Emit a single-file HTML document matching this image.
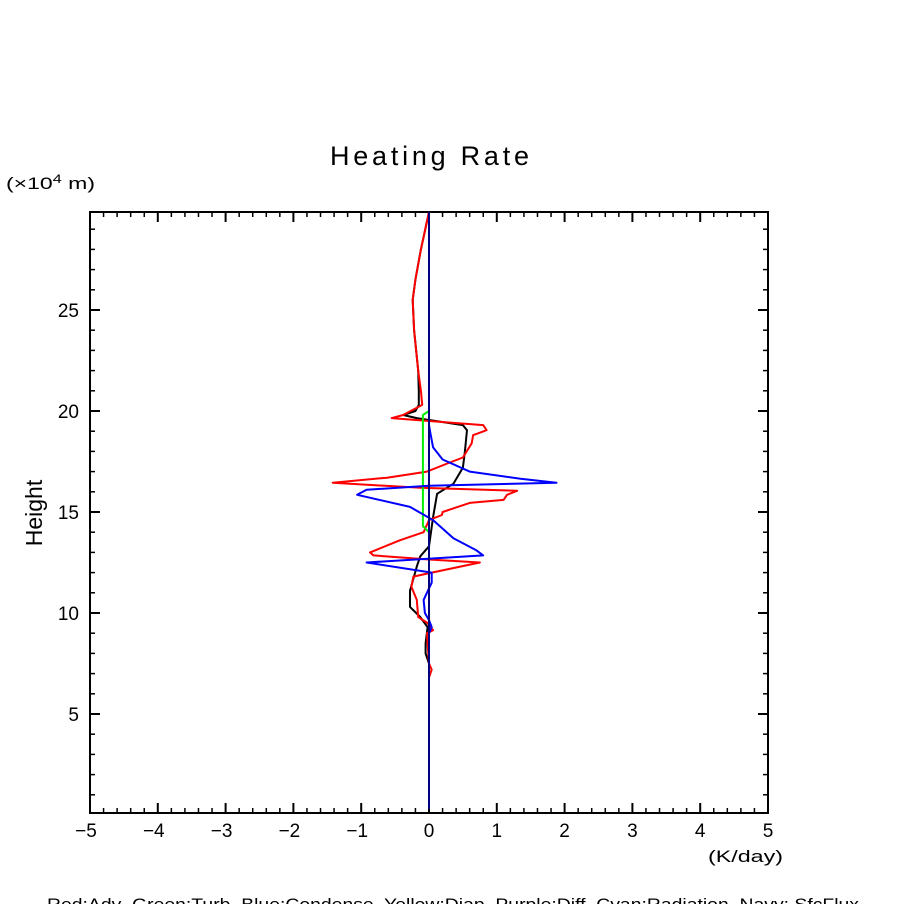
<!DOCTYPE html>
<html><head><meta charset="utf-8"><style>
body{margin:0;background:#fff;}
svg text{font-family:"Liberation Sans",sans-serif;fill:#000;white-space:pre;}
</style></head><body>
<svg id="chart" width="904" height="904" viewBox="0 0 904 904" xmlns="http://www.w3.org/2000/svg">
<rect width="904" height="904" fill="#fff"/>
<text x="330" y="165" font-size="27" textLength="199" lengthAdjust="spacing">Heating Rate</text>
<text x="6" y="189" font-size="17" textLength="89" lengthAdjust="spacingAndGlyphs">(×10<tspan font-size="12" dy="-6">4</tspan><tspan dy="6"> m)</tspan></text>
<text x="42" y="513" font-size="23" text-anchor="middle" transform="rotate(-90 42 513)">Height</text>
<text x="708" y="862" font-size="17" textLength="75" lengthAdjust="spacingAndGlyphs">(K/day)</text>
<text x="47" y="910" font-size="17" textLength="812" lengthAdjust="spacingAndGlyphs">Red:Adv  Green:Turb  Blue:Condense  Yellow:Diap  Purple:Diff  Cyan:Radiation  Navy: SfcFlux</text>
<g id="axes"></g>
<g id="series"></g>
</svg>
<script>
const xTicks=[-5,-4,-3,-2,-1,0,1,2,3,4,5];
const yTicks=[5,10,15,20,25];
const seriesNames=['Turb-black','Adv','Turb','Condense','SfcFlux'];
// heights (x10^4 m) and values (K/day)
const blackH=[29.85,28,26.5,25.5,24,22,21,20.3,20,19.8,19.65,19.3,19.05,18,17.2,16.4,15.9,14.75,13.3,12.8,12.3,11.1,10.3,9.8,9.3,8.5,8,7.5,6,3,0.3];
const blackV=[0,-0.12,-0.2,-0.24,-0.22,-0.16,-0.15,-0.15,-0.2,-0.38,-0.18,0.5,0.56,0.53,0.5,0.36,0.12,0.06,0,-0.13,-0.18,-0.28,-0.28,-0.13,-0.02,-0.05,-0.05,0,0,0,0];
const redH=[29.85,28,26.5,25.5,24,22,21,20.3,19.8,19.65,19.3,19.05,18.8,18.4,17.7,17.4,17,16.7,16.45,16.2,16.05,15.85,15.6,15.45,15,14.85,14.6,14,13.6,13,12.85,12.65,12.5,11.95,11.8,11.3,10.65,9.8,9.5,9.15,9,8.5,7.5,7.2,6.8,5,3,0.3];
const redV=[0,-0.12,-0.2,-0.24,-0.22,-0.16,-0.12,-0.1,-0.38,-0.55,0.8,0.85,0.65,0.63,0.5,0.27,-0.03,-0.62,-1.42,-0.13,1.3,1.15,1.1,0.6,0.2,0.19,0,-0.08,-0.43,-0.87,-0.82,0,0.75,-0.03,-0.23,-0.26,-0.18,-0.16,-0.02,0.06,-0.03,-0.02,0,0.04,0,0,0,0];
const greenH=[0.3,14,14.3,19.8,20,29.85];
const greenV=[0,0,-0.09,-0.09,0,0];
const blueH=[0.3,9,9.3,9.65,10,10.65,11.5,12,12.5,12.85,13.1,13.7,14.6,15.25,15.85,16.1,16.3,16.45,16.65,17,17.6,18.2,18.9,19.3,29.85];
const blueV=[0,0,0.04,0,-0.06,-0.08,0.04,0.04,-0.92,0.8,0.7,0.36,0.06,-0.28,-1.06,-0.92,0,1.88,1.35,0.6,0.2,0.06,0.02,0,0];
const navyH=[0.3,29.85];
const navyV=[0,0];

const X0=90,X1=768,Y0=212,Y1=813;
function xs(v){return 429+v*67.8;}
function ys(h){return 613-(h-10)*20.2;}
const NS='http://www.w3.org/2000/svg';
const axes=document.getElementById('axes');
function mk(tag,attrs,parent){const e=document.createElementNS(NS,tag);for(const k in attrs)e.setAttribute(k,attrs[k]);parent.appendChild(e);return e;}
const frame=mk('rect',{x:X0,y:Y0,width:X1-X0,height:Y1-Y0,fill:'none',stroke:'#000','stroke-width':2},axes);


for(let i=0;i<xTicks.length;i++){
  const v=xTicks[i],x=xs(v);
  const t1=mk('line',{x1:x,x2:x,y1:Y1,y2:Y1-10,stroke:'#000','stroke-width':2},axes);
  
  
  mk('line',{x1:x,x2:x,y1:Y0,y2:Y0+10,stroke:'#000','stroke-width':2},axes);
  const lb=mk('text',{x:x-(v<0?4:0),y:Y1+24,'font-size':19,'text-anchor':'middle'},axes);
  lb.textContent=(v<0?'\u2212'+(-v):''+v);
  
  
  if(i<xTicks.length-1){for(let m=1;m<5;m++){const xm=xs(v+m*0.2);
    mk('line',{x1:xm,x2:xm,y1:Y1,y2:Y1-5,stroke:'#000','stroke-width':1.5},axes);
    mk('line',{x1:xm,x2:xm,y1:Y0,y2:Y0+5,stroke:'#000','stroke-width':1.5},axes);}}
}
for(let h=1;h<30;h++){const y=ys(h);const major=h%5===0;const L=major?10:5;
  mk('line',{x1:X0,x2:X0+L,y1:y,y2:y,stroke:'#000','stroke-width':major?2:1.5},axes);
  mk('line',{x1:X1,x2:X1-L,y1:y,y2:y,stroke:'#000','stroke-width':major?2:1.5},axes);}
for(const h of yTicks){const lb=mk('text',{x:X0-11,y:ys(h)+7,'font-size':19,'text-anchor':'end'},axes);
  lb.textContent=h;
  
  }
const sg=document.getElementById('series');
function line(H,V,color,name){
  const pts=H.map((h,i)=>xs(V[i]).toFixed(1)+','+ys(h).toFixed(1)).join(' ');
  const p=mk('polyline',{points:pts,fill:'none',stroke:color,'stroke-width':2,'stroke-linejoin':'round'},sg);
  
  
}
line(blackH,blackV,'#000','series-black');
line(redH,redV,'#ff0000','series-adv-red');
line(greenH,greenV,'#00ee00','series-turb-green');
line(blueH,blueV,'#0000ff','series-condense-blue');
line(navyH,navyV,'#000080','series-sfcflux-navy');
</script>
</body></html>
